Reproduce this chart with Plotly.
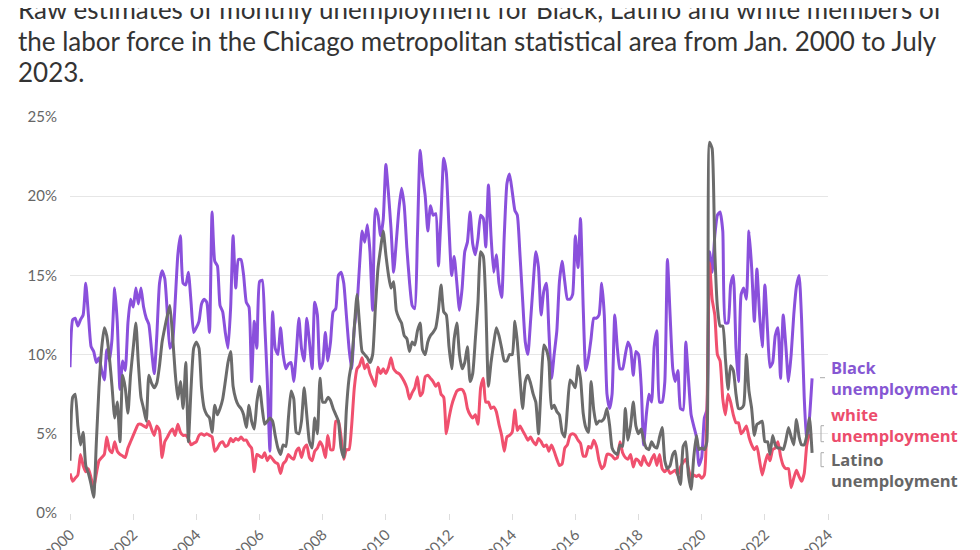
import pandas as pd
import plotly.graph_objects as go

months = pd.date_range("2000-01-01", "2023-07-01", freq="MS")

black = [
    9.2, 12.2, 12.3, 11.8, 12.2, 12.5, 14.5, 12.5, 10.5, 10.2, 9.5, 9.8,      # 2000
    9.0, 8.4, 10.3, 9.6, 11.0, 14.2, 12.0, 7.8, 9.6, 9.0, 12.0, 13.5,         # 2001
    13.0, 14.2, 13.2, 14.2, 13.0, 12.3, 11.9, 10.3, 8.8, 11.2, 14.5, 15.3,    # 2002
    14.8, 12.5, 10.4, 10.8, 13.3, 16.3, 17.5, 14.5, 14.4, 15.2, 13.3, 11.4,   # 2003
    11.7, 12.1, 13.2, 13.5, 13.3, 11.4, 19.0, 15.9, 15.6, 13.1, 12.7, 11.4,   # 2004
    10.4, 13.0, 17.5, 14.2, 16.0, 16.0, 15.0, 13.3, 13.0, 8.3, 12.1, 10.4,    # 2005
    14.6, 14.7, 12.1, 8.3, 3.9, 12.7, 10.4, 10.0, 11.7, 10.0, 9.1, 9.4,       # 2006
    9.5, 8.3, 10.0, 12.3, 10.4, 9.6, 12.3, 10.8, 9.1, 13.3, 12.5, 9.1,        # 2007
    9.5, 11.4, 9.6, 10.8, 12.7, 12.9, 15.0, 15.2, 14.5, 12.5, 10.4, 9.1,      # 2008
    11.7, 13.1, 15.5, 17.8, 17.1, 18.2, 16.5, 12.8, 19.2, 18.8, 17.5, 18.5,   # 2009
    22.0, 20.1, 18.0, 15.2, 17.1, 19.2, 20.5, 19.4, 16.7, 14.6, 13.1, 12.9,   # 2010
    17.5, 22.9, 21.3, 20.0, 17.8, 19.4, 18.8, 18.9, 15.6, 18.8, 22.4, 21.5,   # 2011
    18.0, 15.0, 16.2, 14.5, 12.8, 14.2, 16.5, 17.1, 19.0, 17.0, 16.3, 17.3,   # 2012
    18.8, 18.6, 16.8, 20.7, 17.5, 15.2, 16.3, 14.5, 13.6, 17.5, 20.8, 21.4,   # 2013
    20.3, 19.1, 18.8, 16.3, 13.5, 10.8, 10.0, 12.1, 14.5, 16.5, 15.5, 12.5,   # 2014
    14.0, 14.5, 11.5, 8.5, 10.0, 11.5, 14.6, 15.9, 14.6, 13.5, 13.5, 13.8,    # 2015
    17.5, 15.5, 18.6, 13.0, 9.0, 9.8, 11.0, 12.3, 12.3, 12.5, 14.5, 12.5,     # 2016
    7.5, 6.6, 7.5, 12.5, 10.4, 9.1, 9.1, 10.0, 10.8, 10.4, 8.7, 10.2,         # 2017
    10.0, 8.0, 4.3, 6.2, 7.5, 7.0, 10.5, 11.5, 7.0, 7.0, 8.3, 16.0,           # 2018
    12.5, 9.1, 8.3, 9.0, 6.6, 6.5, 10.8, 8.5, 6.2, 5.5, 4.8, 3.0,             # 2019
    3.5, 6.0, 6.5, 16.5, 15.2, 17.5, 18.8, 19.0, 17.8, 12.0, 12.0, 14.4,      # 2020
    15.0, 10.4, 8.3, 13.8, 14.2, 13.5, 17.8, 15.5, 12.1, 15.4, 12.5, 10.5,    # 2021
    14.4, 11.5, 9.2, 9.5, 11.2, 11.7, 8.5, 12.5, 10.5, 8.3, 10.0, 12.5,       # 2022
    14.3, 15.0, 12.3, 7.3, 4.3, 6.0, 8.5,                                     # 2023
]

latino = [
    3.3, 7.3, 7.5, 5.5, 4.3, 5.1, 3.0, 2.5, 1.8, 1.0, 4.5, 7.9,
    10.4, 11.7, 11.2, 9.8, 8.0, 6.0, 7.0, 4.5, 8.7, 7.9, 6.3, 8.7,
    10.4, 12.0, 9.5, 7.3, 6.6, 5.8, 8.7, 8.2, 7.9, 8.2, 9.3, 10.8,
    11.7, 12.5, 13.1, 11.2, 8.9, 7.2, 8.3, 6.6, 9.5, 4.5, 7.9, 10.4,
    10.8, 10.4, 7.9, 6.6, 6.2, 6.0, 5.1, 6.8, 6.2, 6.6, 7.2, 8.3,
    9.5, 10.2, 8.0, 7.2, 6.8, 6.6, 6.2, 5.4, 6.8, 5.8, 5.3, 7.0,
    8.0, 6.6, 5.6, 5.8, 6.0, 5.8, 4.9, 4.1, 3.7, 4.3, 4.2, 6.0,
    7.7, 7.2, 5.1, 5.0, 5.8, 7.9, 6.2, 4.5, 4.1, 6.0, 5.0, 8.5,
    7.0, 7.0, 7.3, 7.1, 6.6, 6.2, 5.8, 4.1, 3.5, 6.5, 8.5, 9.5,
    11.7, 13.8, 12.0, 10.2, 10.0, 9.8, 9.5, 10.0, 12.9, 15.4, 16.7, 17.8,
    16.3, 15.0, 14.2, 14.6, 12.8, 12.3, 12.0, 11.2, 11.0, 10.2, 10.8, 10.6,
    11.5, 12.0, 10.3, 10.0, 10.8, 11.2, 11.4, 11.7, 12.8, 14.4, 12.7, 12.5,
    10.5, 9.1, 11.0, 12.0, 10.0, 9.1, 9.5, 10.5, 8.3, 8.8, 11.0, 13.3,
    16.5, 16.2, 13.3, 8.0, 9.5, 10.7, 11.7, 11.2, 10.4, 9.6, 9.6, 10.0,
    10.0, 12.1, 10.8, 8.5, 6.6, 8.3, 8.7, 8.2, 7.5, 7.0, 5.0, 8.0,
    10.6, 10.3, 9.6, 6.6, 6.8, 6.4, 6.2, 5.1, 4.8, 6.6, 8.4, 8.2,
    7.9, 9.3, 8.5, 6.3, 5.4, 5.1, 8.3, 6.5, 5.6, 5.8, 5.8, 6.0,
    6.6, 5.5, 4.1, 3.8, 3.7, 4.3, 4.2, 6.6, 4.6, 5.5, 7.0, 5.5,
    5.0, 5.3, 4.6, 4.1, 4.0, 4.5, 4.2, 4.1, 4.8, 5.4, 3.3, 2.8,
    3.0, 3.7, 3.9, 2.4, 1.8, 4.2, 4.5, 2.4, 1.5, 3.5, 4.9, 4.0,
    4.1, 4.0, 4.5, 23.4, 23.0, 16.5, 13.0, 11.8, 11.8, 9.8, 7.8, 9.3,
    9.0, 7.5, 6.6, 6.6, 6.8, 10.0, 7.7, 6.6, 4.9, 5.6, 5.7, 5.8,
    4.5, 4.5, 3.7, 4.9, 4.3, 4.1, 4.1, 4.0, 4.6, 5.4, 4.8, 4.3,
    5.9, 4.8, 4.3, 4.3, 4.9, 6.0, 3.8,
]

white = [
    2.5, 2.0, 2.2, 2.4, 3.7, 3.0, 2.6, 2.8, 2.2, 1.6, 2.5, 3.3,
    3.5, 3.7, 4.8, 4.0, 3.8, 4.5, 3.9, 3.7, 3.6, 3.5, 4.1, 4.5,
    4.9, 5.3, 5.6, 5.6, 5.5, 5.4, 5.8, 5.3, 4.9, 5.5, 5.2, 3.5,
    4.5, 4.8, 5.1, 5.3, 4.9, 5.6, 5.1, 4.9, 4.9, 4.7, 4.3, 4.4,
    4.5, 4.9, 5.0, 4.9, 5.0, 4.9, 4.8, 3.9, 4.1, 4.4, 4.5, 4.2,
    4.3, 4.7, 4.5, 4.7, 4.6, 4.8, 4.6, 4.6, 4.3, 4.1, 2.6, 3.7,
    3.6, 3.5, 3.8, 3.3, 3.6, 3.4, 3.2, 3.1, 2.5, 3.1, 3.3, 3.7,
    3.5, 3.4, 3.9, 4.1, 3.5, 4.1, 4.3, 3.5, 3.3, 3.9, 4.1, 4.5,
    4.2, 3.5, 4.9, 4.0, 4.0, 5.8, 5.8, 4.8, 3.4, 4.0, 4.0, 5.5,
    7.9, 9.1, 9.3, 9.8, 9.1, 9.4, 8.8, 8.4, 8.0, 9.2, 8.8, 9.1,
    8.8, 9.2, 9.8, 9.1, 8.9, 8.8, 8.6, 8.3, 7.9, 7.2, 7.6, 7.9,
    8.6, 7.4, 7.6, 8.6, 8.7, 8.5, 8.3, 8.0, 8.2, 7.5, 7.3, 5.0,
    6.0, 6.8, 7.3, 7.7, 7.8, 7.8, 7.5, 6.6, 6.2, 6.0, 6.2, 5.6,
    7.9, 8.5, 7.0, 7.0, 6.6, 6.7, 6.4, 5.6, 4.9, 3.9, 4.8, 4.9,
    5.1, 6.5, 5.2, 5.5, 5.2, 4.9, 4.6, 4.8, 4.5, 4.3, 4.7, 4.5,
    4.2, 4.3, 3.9, 4.3, 3.9, 3.4, 3.0, 3.1, 4.1, 4.3, 4.9, 5.0,
    4.9, 4.6, 4.4, 3.6, 3.6, 4.2, 4.1, 4.6, 4.2, 3.3, 2.8, 3.0,
    3.7, 3.7, 3.6, 3.4, 3.5, 4.5, 3.8, 3.5, 3.4, 3.7, 2.9, 3.4,
    3.3, 3.0, 3.6, 3.2, 3.0, 3.4, 3.7, 3.0, 3.7, 2.8, 2.6, 2.8,
    2.5, 2.6, 2.7, 2.4, 2.9, 3.2, 3.4, 2.8, 2.2, 2.4, 2.3, 2.4,
    2.2, 2.4, 6.0, 15.8, 13.5, 12.5, 10.0, 9.6, 7.2, 6.2, 7.5, 7.0,
    6.2, 5.7, 5.7, 5.0, 5.2, 5.5, 4.8, 4.3, 4.0, 4.2, 3.3, 2.4,
    3.1, 3.7, 3.3, 4.0, 4.1, 4.5, 3.6, 3.0, 2.8, 2.8, 1.6, 2.2,
    2.7, 2.3, 2.0, 2.5, 4.3, 4.9, 4.9,
]

subtitle = [
    "Raw estimates of monthly unemployment for Black, Latino and white members of",
    "the labor force in the Chicago metropolitan statistical area from Jan. 2000 to July",
    "2023.",
]

PURPLE = "#8a50dc"
RED = "#f0506e"
GREY = "#6b6b6b"

fig = go.Figure()
for name, vals, col in [("Black", black, PURPLE), ("white", white, RED), ("Latino", latino, GREY)]:
    fig.add_trace(go.Scatter(x=months, y=vals, mode="lines", name=name,
                             line=dict(color=col, width=3, shape="spline", smoothing=0.5)))

# page positions (page is offset ~8px from the figure): plot area x 70..828, y 117..513
def px_x(p):
    return (p - 70) / 758

def px_y(p):
    return (513.3 - p) / 396

annos = []
for txt, y in zip(subtitle, [9, 41, 72]):
    annos.append(dict(text=txt, x=px_x(16), y=px_y(y), xref="paper", yref="paper",
                      xanchor="left", yanchor="middle", showarrow=False,
                      font=dict(family="Lato", size=26, color="#333333")))

labels = [("Black<br>unemployment", 378, "#8657d3"),
          ("white<br>unemployment", 425.5, "#ec4d6c"),
          ("Latino<br>unemployment", 470, "#666666")]
for txt, y, col in labels:
    annos.append(dict(text="<b>%s</b>" % txt, x=px_x(829), y=px_y(y), xref="paper", yref="paper",
                      xanchor="left", yanchor="middle", align="left", showarrow=False,
                      font=dict(family="Open Sans", size=16.5, color=col)))

shapes = [
    dict(type="line", xref="paper", yref="paper", x0=px_x(820), x1=px_x(825),
         y0=px_y(378), y1=px_y(378), line=dict(color="#aaaaaa", width=1)),
]
for top, bot in [(426, 442), (453, 467)]:
    for (xa, ya, xb, yb) in [(821, top, 821, bot), (821, top, 824, top), (821, bot, 824, bot)]:
        shapes.append(dict(type="line", xref="paper", yref="paper",
                           x0=px_x(xa), x1=px_x(xb), y0=px_y(ya), y1=px_y(yb),
                           line=dict(color="#aaaaaa", width=1)))

fig.update_layout(
    width=980, height=550,
    margin=dict(l=62, r=160, t=109, b=45),
    plot_bgcolor="white", paper_bgcolor="white",
    showlegend=False,
    annotations=annos, shapes=shapes,
    font=dict(family="Lato", color="#666666"),
)
fig.update_xaxes(range=["2000-01-01", "2024-01-01"], dtick="M24", tickformat="%Y",
                 tickangle=-45, ticks="outside", ticklen=6, tickcolor="#dddddd",
                 showgrid=False, zeroline=False, showline=False, automargin=False,
                 tickfont=dict(size=15, color="#666666"))
fig.update_yaxes(range=[0, 25], dtick=5, ticksuffix="%", showgrid=True,
                 gridcolor="#e6e6e6", zeroline=False, ticklabelstandoff=12, automargin=False,
                 tickfont=dict(size=15, color="#666666"))

fig.write_html("out.html")
